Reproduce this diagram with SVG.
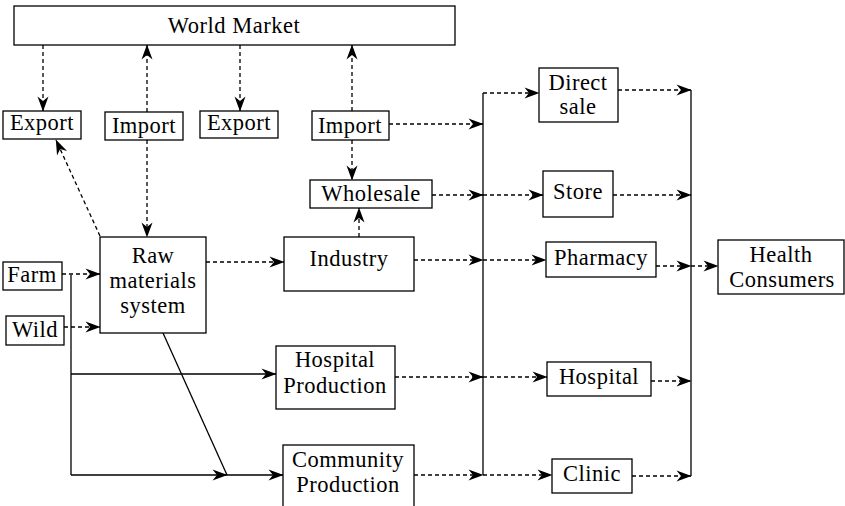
<svg xmlns="http://www.w3.org/2000/svg" width="845" height="506" viewBox="0 0 845 506">
<style>
.box{fill:#fff;stroke:#000;stroke-width:1.3}
text{font-family:"Liberation Serif","Times New Roman",serif;font-size:22.5px;letter-spacing:0.5px;text-anchor:middle;fill:#000}
.d{fill:none;stroke:#000;stroke-width:1.3;stroke-dasharray:4 3}
.s{fill:none;stroke:#000;stroke-width:1.3}
</style>
<defs>
<marker id="ah" markerWidth="16" markerHeight="12" refX="14.5" refY="6" orient="auto" markerUnits="userSpaceOnUse" overflow="visible">
<path d="M0,0.5 L15,6 L0,11.5 L4.5,6 z" fill="#000" stroke="none"/>
</marker>
</defs>
<rect width="845" height="506" fill="#fff"/>
<g id="connectors">
<line class="d" x1="43" y1="45" x2="43" y2="111" marker-end="url(#ah)"/>
<line class="d" x1="147" y1="112" x2="147" y2="45" marker-end="url(#ah)"/>
<line class="d" x1="147" y1="140" x2="147" y2="237" marker-end="url(#ah)"/>
<line class="d" x1="240" y1="45" x2="240" y2="111" marker-end="url(#ah)"/>
<line class="d" x1="352" y1="111" x2="352" y2="45" marker-end="url(#ah)"/>
<line class="d" x1="352" y1="140" x2="352" y2="180" marker-end="url(#ah)"/>
<line class="d" x1="389" y1="124" x2="483" y2="124" marker-end="url(#ah)"/>
<line class="d" x1="359" y1="237" x2="359" y2="208" marker-end="url(#ah)"/>
<line class="d" x1="432" y1="195" x2="483" y2="195" marker-end="url(#ah)"/>
<line class="d" x1="414" y1="260" x2="483" y2="260" marker-end="url(#ah)"/>
<line class="d" x1="395" y1="377" x2="483" y2="377" marker-end="url(#ah)"/>
<line class="d" x1="414" y1="475" x2="483" y2="475" marker-end="url(#ah)"/>
<line class="s" x1="483" y1="93" x2="483" y2="475"/>
<line class="d" x1="483" y1="93" x2="539" y2="93" marker-end="url(#ah)"/>
<line class="d" x1="483" y1="195" x2="543" y2="195" marker-end="url(#ah)"/>
<line class="d" x1="483" y1="260" x2="546" y2="260" marker-end="url(#ah)"/>
<line class="d" x1="483" y1="377" x2="547" y2="377" marker-end="url(#ah)"/>
<line class="d" x1="483" y1="475" x2="552" y2="475" marker-end="url(#ah)"/>
<line class="s" x1="691" y1="90" x2="691" y2="476"/>
<line class="d" x1="618" y1="90" x2="691" y2="90" marker-end="url(#ah)"/>
<line class="d" x1="613" y1="195" x2="691" y2="195" marker-end="url(#ah)"/>
<line class="d" x1="656" y1="266" x2="691" y2="266" marker-end="url(#ah)"/>
<line class="d" x1="651" y1="381" x2="691" y2="381" marker-end="url(#ah)"/>
<line class="d" x1="632" y1="476" x2="691" y2="476" marker-end="url(#ah)"/>
<line class="d" x1="691" y1="266" x2="718" y2="266" marker-end="url(#ah)"/>
<line class="d" x1="100" y1="236" x2="56" y2="140" marker-end="url(#ah)"/>
<line class="d" x1="206" y1="262" x2="284" y2="262" marker-end="url(#ah)"/>
<line class="d" x1="62" y1="274" x2="100" y2="274" marker-end="url(#ah)"/>
<line class="d" x1="64" y1="327" x2="100" y2="327" marker-end="url(#ah)"/>
<line class="s" x1="71" y1="275" x2="71" y2="475"/>
<line class="s" x1="71" y1="374" x2="276" y2="374" marker-end="url(#ah)"/>
<line class="s" x1="71" y1="475" x2="227" y2="475" marker-end="url(#ah)"/>
<line class="s" x1="227" y1="475" x2="283" y2="475" marker-end="url(#ah)"/>
<line class="s" x1="163" y1="333" x2="227" y2="475"/>
</g>
<g id="world-market"><rect class="box" x="14" y="6" width="441" height="39"/><text x="234" y="32.5">World Market</text></g>
<g id="export1"><rect class="box" x="3" y="111" width="78" height="28"/><text x="42" y="130">Export</text></g>
<g id="import1"><rect class="box" x="105" y="112" width="78" height="28"/><text x="144" y="133">Import</text></g>
<g id="export2"><rect class="box" x="200" y="111" width="78" height="27"/><text x="239" y="130">Export</text></g>
<g id="import2"><rect class="box" x="312" y="111" width="77" height="29"/><text x="350" y="133">Import</text></g>
<g id="wholesale"><rect class="box" x="310" y="180" width="122" height="28"/><text x="371" y="201">Wholesale</text></g>
<g id="direct-sale"><rect class="box" x="539" y="68" width="79" height="54"/><text x="578" y="90">Direct</text><text x="578" y="114">sale</text></g>
<g id="store"><rect class="box" x="543" y="171" width="70" height="46"/><text x="578" y="199">Store</text></g>
<g id="industry"><rect class="box" x="284" y="237" width="130" height="54"/><text x="349" y="266">Industry</text></g>
<g id="pharmacy"><rect class="box" x="546" y="242" width="110" height="35"/><text x="601" y="265">Pharmacy</text></g>
<g id="health-consumers"><rect class="box" x="718" y="240" width="126" height="54"/><text x="781" y="262">Health</text><text x="782" y="287">Consumers</text></g>
<g id="raw-materials"><rect class="box" x="100" y="237" width="106" height="96"/><text x="153" y="263">Raw</text><text x="153" y="288">materials</text><text x="153" y="313">system</text></g>
<g id="farm"><rect class="box" x="3" y="262" width="59" height="28"/><text x="32" y="282">Farm</text></g>
<g id="wild"><rect class="box" x="6" y="316" width="58" height="29"/><text x="35" y="337">Wild</text></g>
<g id="hospital-production"><rect class="box" x="276" y="346" width="119" height="63"/><text x="335" y="367">Hospital</text><text x="335" y="393">Production</text></g>
<g id="community-production"><rect class="box" x="283" y="445" width="131" height="70"/><text x="348" y="467">Community</text><text x="348" y="492">Production</text></g>
<g id="hospital"><rect class="box" x="547" y="362" width="104" height="34"/><text x="599" y="384">Hospital</text></g>
<g id="clinic"><rect class="box" x="552" y="459" width="80" height="34"/><text x="592" y="481">Clinic</text></g>
</svg>
